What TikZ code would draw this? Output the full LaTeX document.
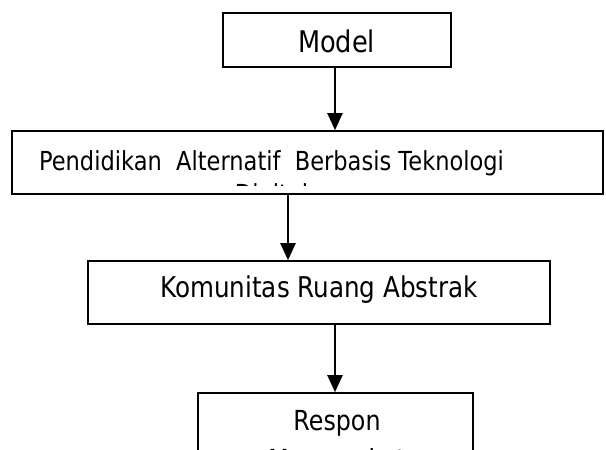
\documentclass[tikz,border=0pt]{standalone}
\usepackage{fontspec}
\usetikzlibrary{arrows.meta}
\newfontfamily\tah[FakeStretch=0.86]{DejaVu Sans}
\tikzset{
  box/.style={draw=black, line width=1.6pt, fill=none, inner sep=0pt},
  lbl/.style={inner sep=0pt, anchor=base, text=black},
  arr/.style={draw=black, line width=2pt, -{Triangle[length=17pt,width=15pt]}}
}
\begin{document}
\begin{tikzpicture}[x=1pt,y=-1pt]
\useasboundingbox (0,0) rectangle (606,450);
\clip (0,0) rectangle (606,450);
\fill[white] (0,0) rectangle (606,450);
% boxes
\node[box, minimum width=228pt, minimum height=54pt] (model) at (337,40) {};
\node[box, minimum width=591pt, minimum height=63pt] (pend) at (307.5,162.5) {};
\node[box, minimum width=462pt, minimum height=63pt] (kom) at (319,292.5) {};
\node[box, minimum width=275pt, minimum height=80pt] (resp) at (335.5,433) {};
% texts
\node[lbl] (tmodel) at (336.5,52) {\tah\fontsize{29.8}{34}\selectfont Model};
\node[lbl] (tpend) at (271.5,170) {\tah\fontsize{26.2}{31}\selectfont Pendidikan\ \ Alternatif\ \ Berbasis Teknologi};
\node[lbl] (tkom) at (319,297) {\tah\fontsize{28.6}{33}\selectfont Komunitas Ruang Abstrak};
\node[lbl] (tresp) at (337,430) {\tah\fontsize{27.6}{33}\selectfont Respon};
\begin{scope}
  \clip (12,131) rectangle (603,185.5);
  \node[lbl] (tdig) at (271.5,203) {\tah\fontsize{26.2}{31}\selectfont Digital};
\end{scope}
\node[lbl] (tmas) at (337,469) {\tah\fontsize{27.6}{33}\selectfont Masyarakat};
% connectors
\coordinate (c1) at (335,0);
\coordinate (c2) at (288,0);
\coordinate (c3) at (335,0);
\draw[arr] (model.south -| c1) -- (pend.north -| c1);
\draw[arr] (pend.south -| c2) -- (kom.north -| c2);
\draw[arr] (kom.south -| c3) -- (resp.north -| c3);
\end{tikzpicture}
\end{document}
